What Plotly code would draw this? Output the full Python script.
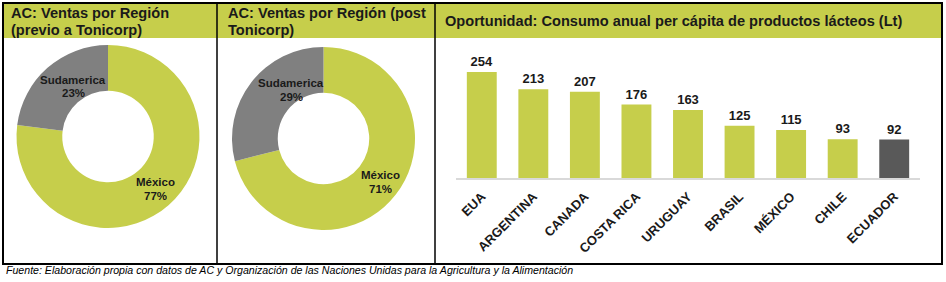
import plotly.graph_objects as go

W, H = 946, 282

# Data
pie_labels = ["México", "Sudamerica"]
pie_pre = [77, 23]
pie_post = [71, 29]

countries = ["EUA", "ARGENTINA", "CANADA", "COSTA RICA", "URUGUAY", "BRASIL", "MÉXICO", "CHILE", "ECUADOR"]
consumo = [254, 213, 207, 176, 163, 125, 115, 93, 92]

GREEN = "#C6CE4B"
GRAY = "#808080"
DARK = "#595959"
FONT = "Liberation Sans, Arial, sans-serif"

def px(x):
    return x / W

def py(y):
    return 1 - y / H

bar_colors = [DARK if c == "ECUADOR" else GREEN for c in countries]

fig = go.Figure()

pie_domains = [
    dict(x=[px(16.5), px(199.5)], y=[py(228), py(45)]),
    dict(x=[px(232), px(415)], y=[py(230), py(47)]),
]
for vals, dom in zip([pie_pre, pie_post], pie_domains):
    fig.add_trace(go.Pie(
        labels=pie_labels, values=vals, hole=0.5, sort=False, direction="clockwise", rotation=0,
        marker=dict(colors=[GREEN, GRAY], line=dict(width=0)),
        textinfo="none", domain=dom, showlegend=False, hoverinfo="none"))

fig.add_trace(go.Bar(
    x=countries, y=consumo, marker=dict(color=bar_colors, line=dict(width=0)),
    text=[f"<b>{v}</b>" for v in consumo], textposition="outside", cliponaxis=False,
    textfont=dict(family=FONT, size=13, color="#1a1a1a"), showlegend=False,
    xaxis="x", yaxis="y"))

fig.update_layout(
    width=W, height=H, margin=dict(l=0, r=0, t=0, b=0),
    paper_bgcolor="white", plot_bgcolor="rgba(0,0,0,0)",
    bargap=0.42,
    xaxis=dict(domain=[px(456), px(920)], range=[-0.5, 8.5], showline=True, linecolor="#D9D9D9", linewidth=2,
               tickangle=-45, ticks="", showgrid=False, zeroline=False, ticklabelstandoff=4,
               tickfont=dict(family=FONT, size=13, color="#1a1a1a", weight="bold")),
    yaxis=dict(domain=[py(178), py(61.2)], range=[0, 280], visible=False, showgrid=False, zeroline=False),
    font=dict(family=FONT),
)

# Header band and borders
fig.add_shape(type="rect", xref="paper", yref="paper", x0=px(3), x1=px(942), y0=py(38), y1=py(3),
              fillcolor=GREEN, line=dict(width=0), layer="below")
fig.add_shape(type="rect", xref="paper", yref="paper", x0=px(3), x1=px(942), y0=py(264), y1=py(3),
              fillcolor="rgba(0,0,0,0)", line=dict(color="black", width=2))
for xv in [217, 435]:
    fig.add_shape(type="line", xref="paper", yref="paper", x0=px(xv), x1=px(xv), y0=py(264), y1=py(3),
                  line=dict(color="black", width=1.5))

titles = [
    (9, 13, "AC: Ventas por Región"),
    (9, 30, "(previo a Tonicorp)"),
    (226, 13, "AC: Ventas por Región (post"),
    (226, 30, "Tonicorp)"),
    (443, 21, "Oportunidad: Consumo anual per cápita de productos lácteos (Lt)"),
]
for x, y, t in titles:
    fig.add_annotation(x=px(x), y=py(y), xref="paper", yref="paper", text=f"<b>{t}</b>", showarrow=False,
                       xanchor="left", yanchor="middle", font=dict(family=FONT, size=14.6, color="#1a1a1a"))

# Pie slice labels
pie_label_pos = [
    (73, 80, 93, "Sudamerica", pie_pre[1]),
    (155, 182, 196, "México", pie_pre[0]),
    (291, 83, 97, "Sudamerica", pie_post[1]),
    (380, 175, 189, "México", pie_post[0]),
]
for x, y1, y2, lab, v in pie_label_pos:
    for yy, t in [(y1, lab), (y2, f"{v}%")]:
        fig.add_annotation(x=px(x), y=py(yy), xref="paper", yref="paper", text=f"<b>{t}</b>", showarrow=False,
                           xanchor="center", yanchor="middle", height=12,
                           font=dict(family=FONT, size=11.5, color="#1a1a1a"))

fig.add_annotation(x=px(4), y=py(270), xref="paper", yref="paper",
                   text="<i>Fuente: Elaboración propia con datos de AC y Organización de las Naciones Unidas para la Agricultura y la Alimentación</i>",
                   showarrow=False, xanchor="left", yanchor="middle", font=dict(family=FONT, size=10.6, color="black"))

fig.write_html("out.html")
